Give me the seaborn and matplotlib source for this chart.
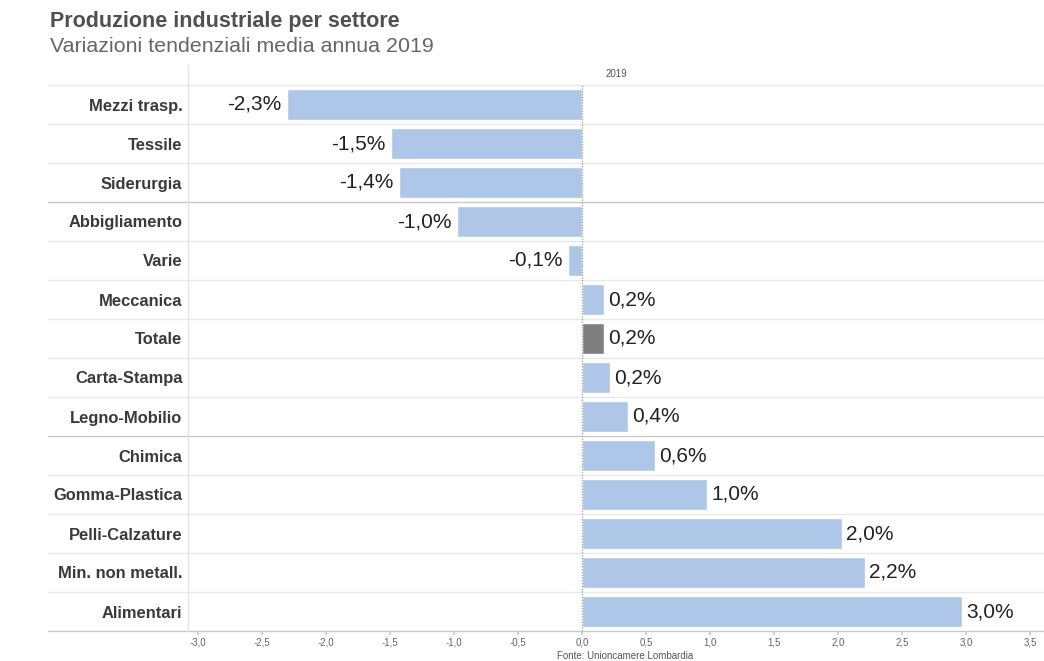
import matplotlib
matplotlib.use('Agg')
from matplotlib import pyplot as plt
import numpy as np
import pandas as pd
import seaborn as sns

# dati
settori = ['Mezzi trasp.', 'Tessile', 'Siderurgia', 'Abbigliamento', 'Varie',
           'Meccanica', 'Totale', 'Carta-Stampa', 'Legno-Mobilio', 'Chimica',
           'Gomma-Plastica', 'Pelli-Calzature', 'Min. non metall.', 'Alimentari']
variazioni = [-2.31, -1.49, -1.43, -0.98, -0.11, 0.17, 0.17, 0.22, 0.36, 0.57,
              0.98, 2.03, 2.21, 2.97]
ticks = [-3.0, -2.5, -2.0, -1.5, -1.0, -0.5, 0.0, 0.5, 1.0, 1.5, 2.0, 2.5, 3.0, 3.5]
separatori_scuri = [2.5, 8.5]

df = pd.DataFrame({'settore': settori, 'var': variazioni})
colori = ['#7f7f7f' if s == 'Totale' else '#aec7e8' for s in settori]

sns.set_theme(style='white')
plt.rcParams['font.family'] = ['Liberation Sans', 'DejaVu Sans']

W, H = 1044, 661
fig = plt.figure(figsize=(W / 100, H / 100), dpi=100)
left, right, top, bottom = 188, 1044, 85, 631
ax = fig.add_axes([left / W, 1 - bottom / H, (right - left) / W, (bottom - top) / H])

sns.barplot(data=df, y='settore', x='var', hue='settore', palette=colori,
            order=settori, legend=False, width=0.78, ax=ax, saturation=1)

ax.set_xlim(-3.08, 3.61)
ax.set_ylim(13.5, -0.5)
for s in ax.spines.values():
    s.set_visible(False)
ax.set_xlabel('')
ax.set_ylabel('')

ax.set_xticks(ticks)
ax.set_xticklabels([f'{t:.1f}'.replace('.', ',') for t in ticks],
                   fontsize=7, color='#666666')
ax.tick_params(axis='x', length=3, color='#cccccc', pad=2, bottom=True)
ax.tick_params(axis='y', length=0, pad=4)
for lab in ax.get_yticklabels():
    lab.set_fontweight('bold')
    lab.set_fontsize(11.9)
    lab.set_color('#3a3a3a')

# linee di separazione
xl = -(left - 48) / (right - left)
tr = ax.get_yaxis_transform()
for i in range(len(settori) - 1):
    y = i + 0.5
    c = '#c8c8c8' if y in separatori_scuri else '#e8e8e8'
    ax.plot([xl, 1], [y, y], color=c, lw=1, transform=tr, clip_on=False)
ax.plot([xl, 1], [-0.5, -0.5], color='#e8e8e8', lw=1, transform=tr, clip_on=False)
ax.plot([xl, 1], [13.5, 13.5], color='#c8c8c8', lw=1, transform=tr, clip_on=False)
ax.plot([0, 0], [0, 1 + 20 / (bottom - top)], color='#e4e4e4', lw=1,
        transform=ax.transAxes, clip_on=False)
ax.axvline(0.0, color='#aaaaaa', lw=1, ls=(0, (1, 1)))

# etichette valori
for i, v in enumerate(variazioni):
    txt = f'{v:.1f}'.replace('.', ',') + '%'
    if v < 0:
        ax.annotate(txt, (v, i), xytext=(-4, 0), textcoords='offset points',
                    ha='right', va='center', fontsize=15, color='#222222')
    else:
        ax.annotate(txt, (v, i), xytext=(3, 0), textcoords='offset points',
                    ha='left', va='center', fontsize=15, color='#222222')

ax.text(0.5, 1 + 11 / (bottom - top), '2019', transform=ax.transAxes,
        ha='center', va='center', fontsize=7, color='#555555')

fig.text(50 / W, 1 - 22 / H, 'Produzione industriale per settore', fontsize=15.5,
         fontweight='bold', color='#505050', va='center')
fig.text(50 / W, 1 - 47 / H, 'Variazioni tendenziali media annua 2019', fontsize=15.4,
         color='#666666', va='center')
fig.text(625 / W, 1 - 656 / H, 'Fonte: Unioncamere Lombardia', fontsize=7,
         color='#555555', ha='center', va='center')

fig.savefig('out.png', dpi=100)
